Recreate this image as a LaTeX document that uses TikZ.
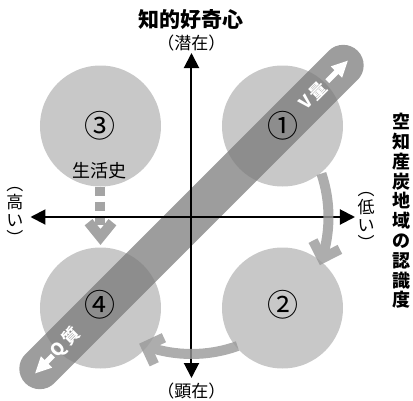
\documentclass[tikz,border=0pt]{standalone}
\usepackage{fontspec}
\setmainfont{Noto Sans CJK JP}
\usetikzlibrary{arrows.meta}
\definecolor{circ}{HTML}{C8C8C8}
\definecolor{bandc}{HTML}{777777}
\definecolor{arcc}{HTML}{999999}
\definecolor{dashc}{HTML}{A4A4A4}
\begin{document}
\begin{tikzpicture}[x=1pt,y=1pt,
  quad/.style={circle, fill=circ, minimum size=121pt, inner sep=0pt},
  num/.style={font=\fontsize{31}{31}\selectfont, inner sep=0pt},
  axisline/.style={line width=2pt, {Triangle[length=15pt,width=15pt]}-{Triangle[length=15pt,width=15pt]}},
  cyc/.style={line width=10pt, draw=arcc},
  chev/.style={line width=10pt, draw=arcc, line join=miter},
  dashline/.style={line width=10pt, draw=dashc, dash pattern=on 9pt off 5.5pt},
  bandline/.style={line width=41pt, draw=bandc, line cap=round, opacity=0.72},
  bandtxt/.style={text=white, font=\bfseries\fontsize{17}{17}\selectfont, inner sep=0pt, transform shape},
  lbl/.style={font=\fontsize{17}{17}\selectfont, inner sep=0pt},
  vlbl/.style={font=\fontsize{17}{18}\selectfont, inner sep=0pt, align=center},
]
\useasboundingbox (-191.5,-183) rectangle (221.5,217);

% quadrant circles
\node[quad] (q1) at (91,91) {};
\node[quad] (q2) at (91,-91) {};
\node[quad] (q3) at (-91,91) {};
\node[quad] (q4) at (-91,-91) {};

% life history dashed arrow
\node[font=\fontsize{18}{18}\selectfont, inner sep=0pt] (life) at (-91.5,46) {生活史};
\coordinate (d0) at (-91,30);
\coordinate (d1) at (-91,-10);
\coordinate (dv) at (-91,-20);
\draw[dashline] (d0) -- (d1);
\draw[chev, draw=dashc] (dv) ++(129:19) -- (dv) -- ++(51:19);

% diagonal band
\begin{scope}[rotate=45]
  \coordinate (bA) at (-214.5,0);
  \coordinate (bB) at (214.5,0);
  \draw[bandline] (bA) -- (bB);
  \node[bandtxt] (tV) at (172,0) {V\hspace{3pt}量};
  \coordinate (aV0) at (192,0);
  \coordinate (aV1) at (207,0);
  \draw[white, line width=5.5pt] (aV0) -- (aV1);
  \fill[white] (205,8) -- (221,0) -- (205,-8) -- cycle;
  \node[bandtxt] (tQ) at (-178,0) {Q\hspace{3pt}質};
  \coordinate (aQ0) at (-196,0);
  \coordinate (aQ1) at (-207,0);
  \draw[white, line width=5.5pt] (aQ0) -- (aQ1);
  \fill[white] (-205,8) -- (-221,0) -- (-205,-8) -- cycle;
\end{scope}

% axes
\coordinate (ytop) at (0,164);
\coordinate (ybot) at (0,-161);
\coordinate (xl) at (-161,0);
\coordinate (xr) at (163.5,0);
\draw[axisline] (ybot) -- (ytop);
\draw[axisline] (xl) -- (xr);

% cycle arcs
\coordinate (v1) at (-17.6:137);
\coordinate (v2) at (-109.5:137);
\begin{scope}[transparency group, opacity=0.8]
  \draw[cyc] (18.5:137) arc[start angle=18.5, end angle=-17.6, radius=137];
  \draw[chev] (v1) ++(117:20) -- (v1) -- ++(27:20);
  \draw[cyc] (-70.4:137) arc[start angle=-70.4, end angle=-109.5, radius=137];
  \draw[chev] (v2) ++(25:20) -- (v2) -- ++(-65:20);
\end{scope}

% numbers
\node[num] (n1) at (91.5,91) {①};
\node[num] (n2) at (91.5,-88) {②};
\node[num] (n3) at (-91.5,91) {③};
\node[num] (n4) at (-91.5,-88) {④};

% labels
\node[font=\bfseries\fontsize{21}{21}\selectfont, inner sep=0pt] (title) at (0,197) {知的好奇心};
\node[lbl] (top) at (0,174) {（潜在）};
\node[lbl] (bottom) at (0,-174) {（顕在）};
\node[vlbl] (left) at (-176.5,1) {︵\\高\\い\\︶};
\node[vlbl] (right) at (174.5,-4) {︵\\低\\い\\︶};
\node[font=\bfseries\fontsize{18}{19.8}\selectfont, inner sep=0pt, align=center] (rt) at (209.5,6) {空\\知\\産\\炭\\地\\域\\の\\認\\識\\度};
\end{tikzpicture}
\end{document}
